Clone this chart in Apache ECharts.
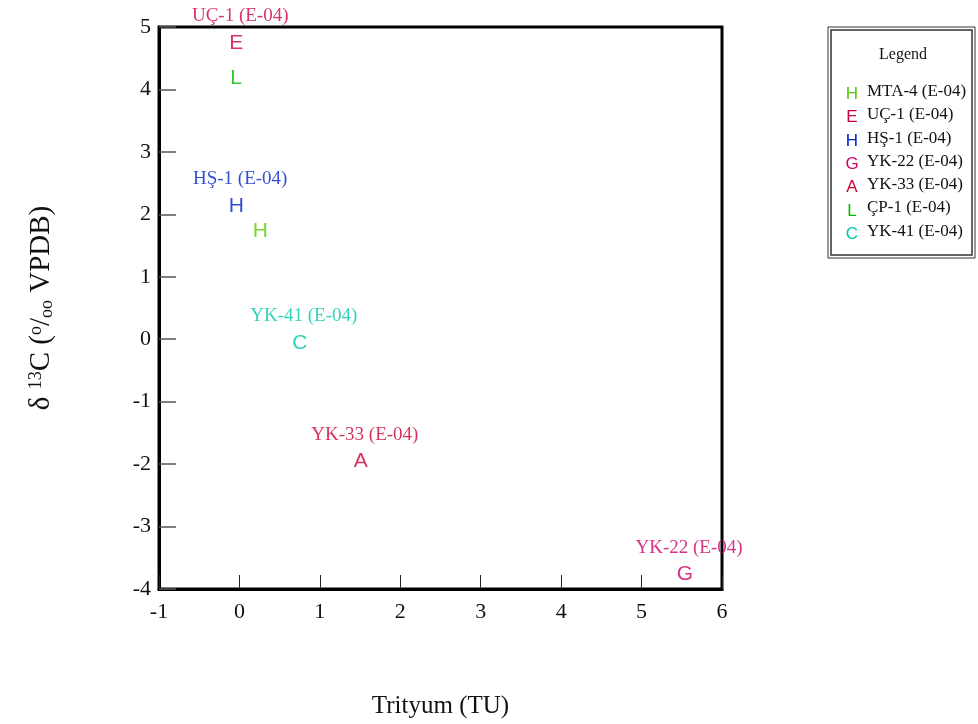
<!DOCTYPE html>
<html><head><meta charset="utf-8">
<script src="https://cdn.jsdelivr.net/npm/echarts@6/dist/echarts.min.js"></script>
<style>html,body{margin:0;padding:0;background:#fff}#c{width:978px;height:724px}</style>
</head><body><div id="c"></div>
<script>
const names = ['MTA-4 (E-04)','UÇ-1 (E-04)','HŞ-1 (E-04)','YK-22 (E-04)','YK-33 (E-04)','ÇP-1 (E-04)','YK-41 (E-04)'];
const letters = ['H','E','H','G','A','L','C'];
const colors = ['#55cc00','#cc0044','#0022cc','#cc0066','#cc0033','#00bb00','#00c8aa'];
const tritium = [0.26, -0.04, -0.04, 5.54, 1.51, -0.04, 0.75];
const d13C = [1.73, 4.74, 2.13, -3.77, -1.96, 4.18, -0.06];
const showName = [false, true, true, true, true, false, true];
const xTicks = [-1,0,1,2,3,4,5,6];
const yTicks = [-4,-3,-2,-1,0,1,2,3,4,5];

const serif = '"Liberation Serif","DejaVu Serif",serif';
const sans = '"Liberation Sans","DejaVu Sans",sans-serif';
const series = [];
names.forEach((n,i)=>{
  series.push({type:'scatter', name:n, data:[[tritium[i], d13C[i]]], symbolSize:0, silent:true,
    itemStyle:{color:colors[i]},
    label:{show:true, position:'inside', formatter:letters[i], color:colors[i], textBorderWidth:0, fontSize:21, fontFamily:sans}});
  if (showName[i]) series.push({type:'scatter', name:n+'_lbl', data:[[tritium[i], d13C[i]]], symbolSize:0, silent:true,
    itemStyle:{color:colors[i]},
    label:{show:true, position:'inside', offset:[4,-27], formatter:n, color:colors[i], textBorderWidth:0, fontSize:19, fontFamily:serif}});
});

const legendGraphics = [
  {type:'rect', shape:{x:828,y:27,width:147,height:231}, style:{fill:'#fff', stroke:'#333', lineWidth:1}},
  {type:'rect', shape:{x:831,y:30,width:141,height:225}, style:{fill:'none', stroke:'#333', lineWidth:1.5}},
  {type:'text', x:903, y:55, style:{text:'Legend', font:'16px '+serif, fill:'#111', align:'center', verticalAlign:'middle'}}
];
names.forEach((n,i)=>{
  const y = 91.5 + i*23.3;
  legendGraphics.push({type:'text', x:852, y:y+3, style:{text:letters[i], font:'17px '+sans, fill:colors[i], align:'center', verticalAlign:'middle'}});
  legendGraphics.push({type:'text', x:867, y:y, style:{text:n, font:'17px '+serif, fill:'#111', align:'left', verticalAlign:'middle'}});
});

const chart = echarts.init(document.getElementById('c'));
chart.setOption({
  animation:false,
  grid:{left:159, right:256, top:27, bottom:135, containLabel:false, outerBoundsMode:'none',
    show:true, borderColor:'#000', borderWidth:3, backgroundColor:'transparent'},
  xAxis:{type:'value', min:-1, max:6, interval:1,
    name:'Trityum (TU)', nameLocation:'middle', nameGap:105,
    nameTextStyle:{fontFamily:serif, fontSize:25, color:'#111'},
    axisLine:{show:true, onZero:false, lineStyle:{color:'#000', width:3}},
    axisTick:{show:true, inside:true, length:14, lineStyle:{color:'#222', width:1}},
    axisLabel:{fontFamily:serif, fontSize:22, color:'#111', margin:12, formatter:v=>xTicks.includes(v)?String(v):''},
    splitLine:{show:false}},
  yAxis:{type:'value', min:-4, max:5, interval:1,
    name:'{a|δ }{s|13}{a|C (}{s|o}{a|/}{b|oo}{a| VPDB)}', nameLocation:'middle', nameGap:103,
    nameTextStyle:{fontFamily:serif, fontSize:29, color:'#111',
      rich:{a:{fontFamily:serif, fontSize:29, color:'#111'},
            s:{fontFamily:serif, fontSize:18, color:'#111', verticalAlign:'top', padding:[0,0,10,0]},
            b:{fontFamily:serif, fontSize:18, color:'#111', verticalAlign:'bottom', padding:[8,0,0,0]}}},
    axisLine:{show:true, onZero:false, lineStyle:{color:'#000', width:3}},
    axisTick:{show:true, inside:true, length:17, lineStyle:{color:'#555', width:1.5}},
    axisLabel:{fontFamily:serif, fontSize:22, color:'#111', margin:8, formatter:v=>yTicks.includes(v)?String(v):''},
    splitLine:{show:false}},
  series:series,
  graphic:legendGraphics
});
</script></body></html>
